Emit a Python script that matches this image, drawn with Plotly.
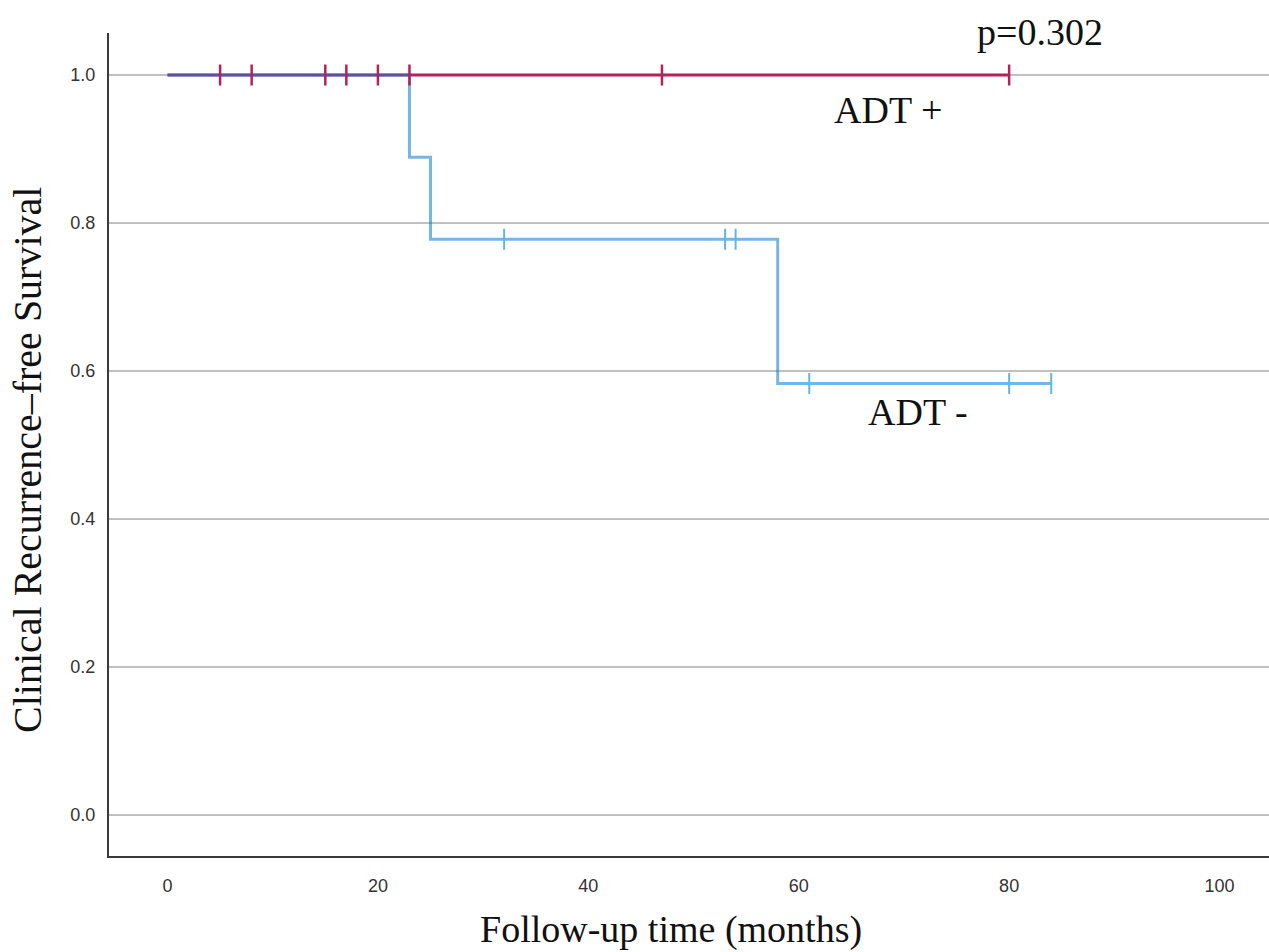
import plotly.graph_objects as go

# ---- data ----
adt_pos_time = [0, 80]
adt_pos_surv = [1.0, 1.0]
adt_pos_censor_time = [5, 8, 15, 17, 20, 23, 47, 80]
adt_pos_censor_surv = [1.0, 1.0, 1.0, 1.0, 1.0, 1.0, 1.0, 1.0]

adt_neg_time = [0, 23, 25, 58, 84]
adt_neg_surv = [1.0, 0.889, 0.778, 0.583, 0.583]
adt_neg_censor_time = [32, 53, 54, 61, 80, 84]
adt_neg_censor_surv = [0.778, 0.778, 0.778, 0.583, 0.583, 0.583]

x_ticks = [0, 20, 40, 60, 80, 100]
y_ticks = [0.0, 0.2, 0.4, 0.6, 0.8, 1.0]
y_tick_text = ["0.0", "0.2", "0.4", "0.6", "0.8", "1.0"]

RED = "rgb(180,34,92)"
BLUE = "rgba(10,125,210,0.56)"
BLUE_MARK = "rgb(100,180,230)"

L, R, T, B = 109, 0, 33, 96
W, H = 1269, 952
pw, ph = W - L - R, H - T - B


def px_x(p):
    return (p - L) / pw


def px_y(p):
    return (H - B - p) / ph


fig = go.Figure()
fig.add_trace(go.Scatter(x=adt_pos_time, y=adt_pos_surv, mode="lines",
                         line=dict(color=RED, width=3, shape="hv"), showlegend=False))
fig.add_trace(go.Scatter(x=adt_neg_time, y=adt_neg_surv, mode="lines",
                         line=dict(color=BLUE, width=3, shape="hv"), showlegend=False))
fig.add_trace(go.Scatter(x=adt_pos_censor_time, y=adt_pos_censor_surv, mode="markers",
                         marker=dict(symbol="line-ns-open", size=15, color=RED,
                                     line=dict(color=RED, width=2.5)), showlegend=False))
fig.add_trace(go.Scatter(x=adt_neg_censor_time, y=adt_neg_censor_surv, mode="markers",
                         marker=dict(symbol="line-ns-open", size=15, color=BLUE_MARK,
                                     line=dict(color=BLUE_MARK, width=2)), showlegend=False))

serif = "Liberation Serif, Times New Roman, serif"
txt = dict(family=serif, size=38, color="#111")
fig.add_annotation(x=68.5, y=0.953, xref="x", yref="y", text="ADT +", showarrow=False,
                   xanchor="center", yanchor="middle", font=txt)
fig.add_annotation(x=71.3, y=0.545, xref="x", yref="y", text="ADT -", showarrow=False,
                   xanchor="center", yanchor="middle", font=txt)
fig.add_annotation(x=px_x(1040), y=px_y(32), xref="paper", yref="paper", text="p=0.302",
                   showarrow=False, xanchor="center", yanchor="middle", font=txt)
# axis titles
fig.add_annotation(x=px_x(671), y=px_y(929), xref="paper", yref="paper",
                   text="Follow-up time (months)", showarrow=False,
                   xanchor="center", yanchor="middle",
                   font=dict(family=serif, size=38, color="#111"))
fig.add_annotation(x=px_x(27), y=px_y(460), xref="paper", yref="paper",
                   text="Clinical Recurrence\u2013free Survival", textangle=-90, showarrow=False,
                   xanchor="center", yanchor="middle",
                   font=dict(family=serif, size=40, color="#111"))

fig.update_layout(
    width=W, height=H,
    margin=dict(l=L, r=R, t=T, b=B),
    plot_bgcolor="white", paper_bgcolor="white",
    xaxis=dict(range=[-5.56, 104.7], tickvals=x_ticks, showgrid=False, zeroline=False,
               showline=True, linecolor="#3a3a3a", linewidth=2,
               ticks="", ticklabelstandoff=12,
               tickfont=dict(family="Liberation Sans, Arial, sans-serif", size=18, color="#333")),
    yaxis=dict(range=[-0.0554, 1.0568], tickvals=y_ticks, ticktext=y_tick_text,
               showgrid=True, gridcolor="#c0c0c0", gridwidth=2, zeroline=False,
               showline=True, linecolor="#3a3a3a", linewidth=2,
               ticks="", ticklabelstandoff=8,
               tickfont=dict(family="Liberation Sans, Arial, sans-serif", size=18, color="#333")),
)

fig.write_html("out.html")
